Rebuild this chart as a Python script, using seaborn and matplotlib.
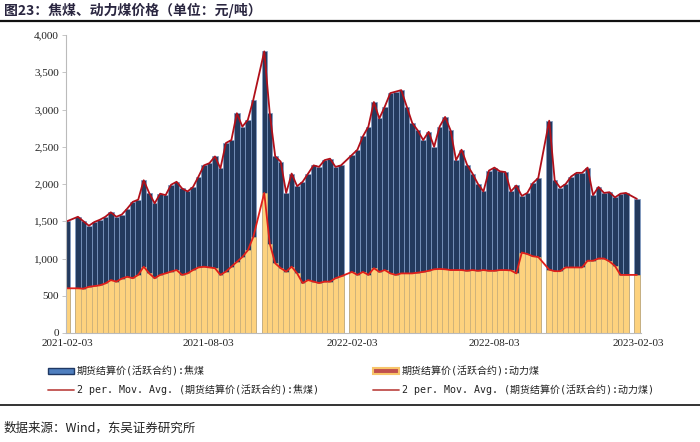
import numpy as np
import pandas as pd
import matplotlib
matplotlib.use("Agg")
import matplotlib.pyplot as plt
import seaborn as sns
from matplotlib.patches import Patch
from matplotlib.lines import Line2D

# ---------------- data (weekly, from 2021-02-03; None = holiday gap) ----------------
start_date = "2021-02-03"
coking_coal = [1500, None, 1560, 1500, 1440, 1490, 1520, 1560, 1620, 1560,
               1590, 1670, 1760, 1790, 2050, 1880, 1740, 1870, 1850, 1990,
               2030, 1940, 1900, 1960, 2100, 2250, 2280, 2370, 2210, 2550,
               2590, 2950, 2770, 2860, 3130, None, 3780, 2950, 2370, 2300,
               1880, 2140, 1970, 2030, 2140, 2250, 2230, 2320, 2340, 2230,
               2250, None, 2390, 2460, 2640, 2770, 3100, 2880, 3040, 3220,
               3240, 3260, 3040, 2820, 2720, 2590, 2700, 2500, 2770, 2900,
               2720, 2320, 2460, 2260, 2140, 2000, 1900, 2180, 2220, 2170,
               2160, 1900, 1980, 1840, 1880, 2010, 2080, None, 2850, 2050,
               1950, 2000, 2100, 2150, 2150, 2220, 1850, 1960, 1880, 1890,
               1820, 1870, 1880, None, 1800]
thermal_coal = [600, None, 600, 595, 620, 630, 640, 665, 710, 690,
                730, 755, 735, 780, 890, 800, 735, 780, 800, 825,
                845, 780, 800, 845, 880, 890, 880, 870, 780, 825,
                890, 955, 1020, 1110, 1290, None, 1880, 1200, 935, 870,
                825, 890, 800, 670, 710, 690, 670, 690, 690, 735,
                760, None, 820, 780, 820, 780, 870, 820, 845, 800,
                780, 800, 800, 800, 810, 820, 835, 855, 860, 855,
                845, 845, 845, 835, 845, 835, 845, 835, 835, 845,
                845, 840, 800, 1080, 1060, 1030, 1020, None, 850, 830,
                830, 880, 880, 880, 880, 970, 970, 1000, 1000, 960,
                900, 780, 780, None, 780]
tick_labels = ["2021-02-03", "2021-08-03", "2022-02-03", "2022-08-03", "2023-02-03"]

name_cc = "期货结算价(活跃合约):焦煤"
name_tc = "期货结算价(活跃合约):动力煤"

# ---------------- frame ----------------
n = len(coking_coal)
df = pd.DataFrame({
    "week": np.arange(n),
    "cc": pd.array(coking_coal, dtype="float"),
    "tc": pd.array(thermal_coal, dtype="float"),
})

# the source average is taken over 2 daily settlements, i.e. it sits on the
# sampled values; the line joins the available observations across the gaps
line_cc = df[["week", "cc"]].dropna()
line_tc = df[["week", "tc"]].dropna()

# ---------------- style ----------------
sns.set_theme(style="white")
plt.rcParams["font.family"] = ["Liberation Serif", "Noto Sans CJK SC"]

fig = plt.figure(figsize=(7.0, 4.42), dpi=100)
ax = fig.add_axes([66 / 700, 109 / 442, 575 / 700, 298 / 442])

navy = "#233A5E"
yellow = "#FDD27E"
red = "#E0201B"

sns.barplot(data=df, x="week", y="cc", color=navy, width=1.0, saturation=1,
            errorbar=None, ax=ax, edgecolor="#7F9BC6", linewidth=0.5)
sns.barplot(data=df, x="week", y="tc", color=yellow, width=1.0, saturation=1,
            errorbar=None, ax=ax, edgecolor="#C9AE78", linewidth=0.5)
sns.lineplot(data=line_cc, x="week", y="cc", color="#B0101A", linewidth=1.3, ax=ax)
sns.lineplot(data=line_tc, x="week", y="tc", color=red, linewidth=1.3, ax=ax)

# ---------------- axes ----------------
ax.set_ylim(0, 4000)
ax.set_xlim(-0.18, 104.75)
ax.set_yticks(np.arange(0, 4001, 500))
ax.set_yticklabels([f"{v:,}" for v in range(0, 4001, 500)])
start = pd.Timestamp(start_date)
tick_pos = [(pd.Timestamp(t) - start).days / 7 for t in tick_labels]
ax.set_xticks(tick_pos)
ax.set_xticklabels(tick_labels)
ax.set_xlabel("")
ax.set_ylabel("")
ax.tick_params(axis="both", labelsize=8, colors="#222222", length=3, width=0.6,
               pad=2)
ax.tick_params(axis="x", length=0, pad=4)
ax.tick_params(axis="y", left=True, color="#BBBBBB")
for side in ["top", "right"]:
    ax.spines[side].set_visible(False)
for side in ["left", "bottom"]:
    ax.spines[side].set_color("#BBBBBB")
    ax.spines[side].set_linewidth(0.8)
if ax.get_legend() is not None:
    ax.get_legend().remove()

# ---------------- legend ----------------
leg_font = ["DejaVu Sans Mono", "Noto Sans CJK SC"]
h_cc = Patch(facecolor="#4F7FBF", edgecolor="#1F3864", linewidth=1.0)
h_tc = Patch(facecolor="#C0504D", edgecolor="#F8C56A", linewidth=1.5)
h_mcc = Line2D([0], [0], color="#C0504D", linewidth=1.3)
h_mtc = Line2D([0], [0], color="#C0504D", linewidth=1.3)
handles = [h_cc, h_mcc, h_tc, h_mtc]
labels = [name_cc, f"2 per. Mov. Avg. ({name_cc})",
          name_tc, f"2 per. Mov. Avg. ({name_tc})"]
leg = fig.legend(handles, labels, loc="upper left", ncol=2,
                 bbox_to_anchor=(44 / 700, 1 - 362 / 442), frameon=False,
                 prop={"family": leg_font, "size": 7.2},
                 handlelength=2.6, handleheight=0.6, handletextpad=0.3,
                 columnspacing=5.4, labelspacing=0.8, borderaxespad=0)
for t in leg.get_texts():
    t.set_color("#222222")

# ---------------- title, source, rules ----------------
fig.text(4 / 700, 1 - 10 / 442, "图23：焦煤、动力煤价格（单位：元/吨）",
         family=["Noto Sans CJK SC"], fontsize=10, fontweight="bold",
         color="#2A2640", va="center", ha="left")
fig.text(4 / 700, 1 - 428 / 442, "数据来源：Wind，东吴证券研究所",
         family=["Noto Sans CJK SC", "Liberation Serif"], fontsize=9,
         color="#222222", va="center", ha="left")
fig.add_artist(Line2D([0, 1], [1 - 21 / 442, 1 - 21 / 442], color="#111111",
                      linewidth=1.6, transform=fig.transFigure))
fig.add_artist(Line2D([0, 1], [1 - 405 / 442, 1 - 405 / 442], color="#111111",
                      linewidth=1.2, transform=fig.transFigure))

fig.savefig("out.png", dpi=100, facecolor="white")
